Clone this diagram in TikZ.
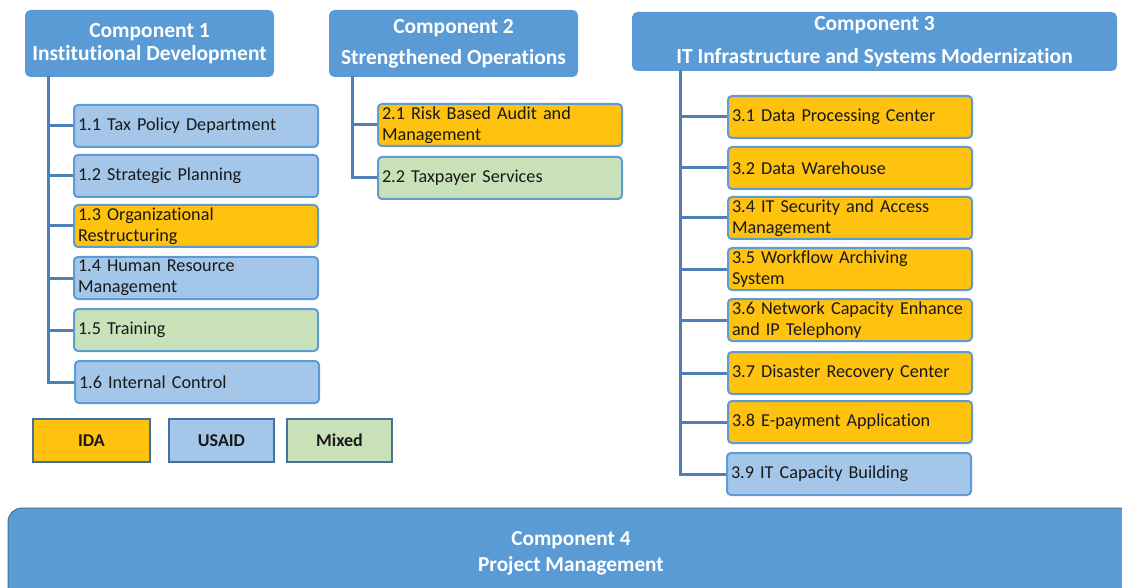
\documentclass[tikz,border=0pt]{standalone}
\usepackage{fontspec}
\setmainfont[Ligatures=NoCommon]{Carlito}
\definecolor{hdr}{HTML}{5B9BD5}
\definecolor{lblue}{HTML}{A4C7E9}
\definecolor{orng}{HTML}{FFC20E}
\definecolor{grn}{HTML}{C9E1B9}
\definecolor{bord}{HTML}{5E9AD4}
\definecolor{dbord}{HTML}{41719C}
\definecolor{trk}{HTML}{4E7FB5}
\tikzset{
  hdrbox/.style={draw=hdr, fill=hdr, rounded corners=5pt, line width=1pt, inner sep=0pt,
    text=white, align=center, font=\fontsize{21.5}{23}\selectfont\bfseries, anchor=north west},
  item/.style={draw=bord, line width=2pt, rounded corners=4pt, inner xsep=4pt, inner ysep=0pt, anchor=north west,
    minimum width=244pt, minimum height=42pt, text width=236pt, align=left,
    font=\fontsize{18.2}{21}\selectfont, text=black!90},
  ida/.style={item, fill=orng},
  usaid/.style={item, fill=lblue},
  mixed/.style={item, fill=grn},
  legbox/.style={draw=dbord, line width=2pt, inner sep=0pt, anchor=north west,
    minimum width=117pt, minimum height=43pt, font=\fontsize{18}{20}\selectfont\bfseries, text=black!90},
  trunk/.style={draw=trk, line width=3pt},
}
\begin{document}
\begin{tikzpicture}[x=1pt,y=-1pt]
\useasboundingbox (0,0) rectangle (1122,588);
% headers
\node[hdrbox, minimum width=248pt, minimum height=66pt] (c1) at (25,10) {Component 1\\Institutional Development};
\node[hdrbox, minimum width=248pt, minimum height=66pt] (c2) at (329,10) {Component 2\\[8pt]Strengthened Operations};
\node[hdrbox, minimum width=484pt, minimum height=58pt] (c3) at (632,12) {Component 3\\[10pt]IT Infrastructure and Systems Modernization};
% column 1
\node[usaid] (b11) at (73,104) {1.1 Tax Policy Department};
\node[usaid] (b12) at (73,154) {1.2 Strategic Planning};
\node[ida]   (b13) at (73,204) {1.3 Organizational\\Restructuring};
\node[usaid] (b14) at (73,256) {1.4 Human Resource\\Management};
\node[mixed] (b15) at (73,308) {1.5 Training};
\node[usaid] (b16) at (74,360) {1.6 Internal Control};
\coordinate (t1) at (48,76);
\draw[trunk] (t1) |- (b16.west);
\foreach \b in {b11,b12,b13,b14,b15} \draw[trunk] (\b.west -| t1) -- (\b.west);
% column 2
\node[ida]   (b21) at (377,103) {2.1 Risk Based Audit and\\Management};
\node[mixed] (b22) at (377,156) {2.2 Taxpayer Services};
\coordinate (t2) at (352,76);
\draw[trunk] (t2) |- (b22.west);
\draw[trunk] (b21.west -| t2) -- (b21.west);
% column 3
\node[ida] (b31) at (727,95) {3.1 Data Processing Center};
\node[ida] (b32) at (727,146) {3.2 Data Warehouse};
\node[ida] (b34) at (727,196) {3.4 IT Security and Access\\Management};
\node[ida] (b35) at (727,247) {3.5 Workflow Archiving\\System};
\node[ida] (b36) at (727,298) {3.6 Network Capacity Enhance\\and IP Telephony};
\node[ida] (b37) at (727,351) {3.7 Disaster Recovery Center};
\node[ida] (b38) at (727,400) {3.8 E-payment Application};
\node[usaid] (b39) at (726,452) {3.9 IT Capacity Building};
\coordinate (t3) at (680,70);
\draw[trunk] (t3) |- (b39.west);
\foreach \b in {b31,b32,b34,b35,b36,b37,b38} \draw[trunk] (\b.west -| t3) -- (\b.west);
% legend
\node[legbox, fill=orng] (lida) at (32,418) {IDA};
\node[legbox, fill=lblue, minimum width=105pt] (lusaid) at (168,418) {USAID};
\node[legbox, fill=grn, minimum width=105pt] (lmixed) at (286,418) {Mixed};
% component 4
\begin{scope}
\clip (0,0) rectangle (1122,588);
\draw[draw=dbord, fill=hdr, line width=1pt, rounded corners=14pt] (8,508) rectangle (1150,620);
\end{scope}
\node[text=white, align=center, font=\fontsize{21.3}{26}\selectfont\bfseries] (c4) at (571,553) {Component 4\\Project Management};
\end{tikzpicture}
\end{document}
